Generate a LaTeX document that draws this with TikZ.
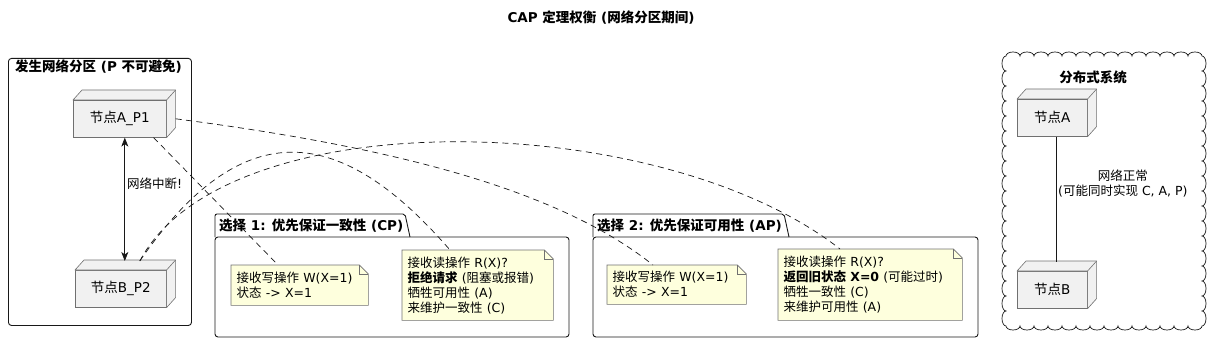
\documentclass[tikz,border=0pt]{standalone}
\usepackage{fontspec}
\setmainfont{DejaVu Sans}
\newfontfamily\cjkfont{Noto Sans CJK SC}
\XeTeXinterchartokenstate=1
\chardef\cjkclass=7
\newcount\cjkcnt
\cjkcnt="4E00
\loop
  \XeTeXcharclass\cjkcnt=\cjkclass
  \ifnum\cjkcnt<"9FFF \advance\cjkcnt by 1
\repeat
\XeTeXinterchartoks 0 \cjkclass = {\begingroup\cjkfont}
\XeTeXinterchartoks 4095 \cjkclass = {\begingroup\cjkfont}
\XeTeXinterchartoks \cjkclass 0 = {\endgroup}
\XeTeXinterchartoks \cjkclass 4095 = {\endgroup}
\usetikzlibrary{arrows.meta,backgrounds}
\definecolor{nodefill}{HTML}{F1F1F1}
\definecolor{notefill}{HTML}{FEFFDD}
\definecolor{linec}{HTML}{181818}
\definecolor{boxline}{HTML}{707070}
\newcommand\threedfaces[1]{%
  \draw[boxface] (#1.north west) -- ++(9pt,10pt) -- ([shift={(9pt,10pt)}]#1.north east)
    -- ([shift={(9pt,10pt)}]#1.south east) -- (#1.south east) -- (#1.north east) -- cycle;
  \draw[boxface] (#1.north east) -- ++(9pt,10pt);}
\begin{document}
\begin{tikzpicture}[x=1pt,y=-1pt,
  every node/.style={font=\fontsize{12.5}{15}\selectfont, inner sep=0pt},
  boldlbl/.style={font=\bfseries\fontsize{13.5}{16}\selectfont},
  nodebox/.style={draw=boxline, fill=nodefill, line width=0.6pt, minimum width=#1,
    minimum height=37pt, anchor=north west, font=\fontsize{13.5}{16}\selectfont},
  boxface/.style={draw=boxline, fill=nodefill, line width=0.6pt, line join=round},
  notebox/.style={anchor=north west, inner xsep=5.5pt, align=left, minimum height=#1},
  noteline/.style={draw=boxline, line width=0.6pt},
  container/.style={draw=linec, line width=0.9pt},
  dashline/.style={draw=linec, line width=0.7pt, dash pattern=on 6pt off 4.5pt},
  solidline/.style={draw=linec, line width=0.7pt},
  arr/.style={draw=linec, line width=0.7pt,
    {Stealth[length=9pt,width=7pt,inset=2.5pt]}-{Stealth[length=9pt,width=7pt,inset=2.5pt]}}]
\useasboundingbox (0,0) rectangle (1216,342);

% title
\node[font=\bfseries\fontsize{13.5}{16}\selectfont] (title) at (601,18) {CAP 定理权衡 (网络分区期间)};

% left frame
\node[container, rounded corners=3pt, anchor=north west, minimum width=183pt, minimum height=267pt] (part) at (8,58) {};
\node[boldlbl, anchor=west] (partlbl) at (15,67) {发生网络分区 (P 不可避免)};

% package CP
\draw[container, rounded corners=2pt] (215,237) -- (215,214) -- (405,214) -- (410,237);
\draw[container, rounded corners=3pt] (215,237) rectangle (569,337);
\node[boldlbl, anchor=west] (cplbl) at (219,225.5) {选择 1: 优先保证一致性 (CP)};

% package AP
\draw[container, rounded corners=2pt] (593,237) -- (593,214) -- (784,214) -- (789,237);
\draw[container, rounded corners=3pt] (593,237) rectangle (978,337);
\node[boldlbl, anchor=west] (aplbl) at (597,225.5) {选择 2: 优先保证可用性 (AP)};

% cloud
\draw[container, line width=0.7pt] (1006,56)
  \foreach \i in {1,...,14} { arc[start angle=180, end angle=0, x radius=7pt, y radius=4pt] }
  \foreach \i in {1,...,18} { arc[start angle=90, end angle=-90, x radius=4pt, y radius=7.5pt] }
  \foreach \i in {1,...,14} { arc[start angle=0, end angle=-180, x radius=7pt, y radius=4pt] }
  \foreach \i in {1,...,18} { arc[start angle=-90, end angle=-270, x radius=4pt, y radius=7.5pt] } -- cycle;
\node[boldlbl] (cloudlbl) at (1093,77) {分布式系统};

% 3D nodes
\node[nodebox=93pt] (ap1) at (73,100) {节点A\_P1};
\threedfaces{ap1}
\node[nodebox=91pt] (bp2) at (75,270) {节点B\_P2};
\threedfaces{bp2}
\node[nodebox=70pt] (na) at (1017,99) {节点A};
\threedfaces{na}
\node[nodebox=70pt] (nb) at (1017,271) {节点B};
\threedfaces{nb}

% notes
\node[notebox=40pt, text width=126pt] (cpw) at (231,265) {接收写操作 W(X=1)\\状态 -> X=1};
\node[notebox=70pt, text width=140pt] (cpr) at (402,250) {接收读操作 R(X)?\\\textbf{拒绝请求} (阻塞或报错)\\牺牲可用性 (A)\\来维护一致性 (C)};
\node[notebox=39pt, text width=128pt] (apw) at (607,265) {接收写操作 W(X=1)\\状态 -> X=1};
\node[notebox=71pt, text width=173pt] (apr) at (778,249) {接收读操作 R(X)?\\\textbf{返回旧状态 X=0} (可能过时)\\牺牲一致性 (C)\\来维护可用性 (A)};
\begin{scope}[on background layer]
  \foreach \n in {cpw,cpr,apw,apr} {
    \draw[noteline, fill=notefill] (\n.north west) -- ([xshift=-9pt]\n.north east)
      -- ([yshift=-9pt]\n.north east) -- (\n.south east) -- (\n.south west) -- cycle;
    \draw[noteline] ([xshift=-9pt]\n.north east) |- ([yshift=-9pt]\n.north east);
  }
\end{scope}

% connectors
\draw[arr] ([xshift=5pt]ap1.south) -- ([xshift=4pt,yshift=9pt]bp2.north)
  node[pos=0.37, anchor=west, inner sep=2pt] (brk) {网络中断!};
\draw[solidline] ([xshift=4pt]na.south) -- ([xshift=4pt,yshift=9pt]nb.north)
  node[pos=0.37, anchor=west, inner sep=1.5pt, align=center] (ok) {网络正常\\(可能同时实现 C, A, P)};
\draw[dashline] ([xshift=-13pt]ap1.south east) -- ([xshift=47pt]cpw.north west);
\draw[dashline] ([xshift=9pt]ap1.east) .. controls +(200,26) and +(-100,-80) .. ([xshift=46pt]apw.north west);
\draw[dashline] ([xshift=19pt,yshift=9pt]bp2.north) .. controls +(110,-160) and +(-100,-115) .. ([xshift=48pt]cpr.north west);
\draw[dashline] ([xshift=19pt,yshift=9pt]bp2.north) .. controls +(85,-161) and +(-180,-141) .. ([xshift=62pt]apr.north west);
\end{tikzpicture}
\end{document}
